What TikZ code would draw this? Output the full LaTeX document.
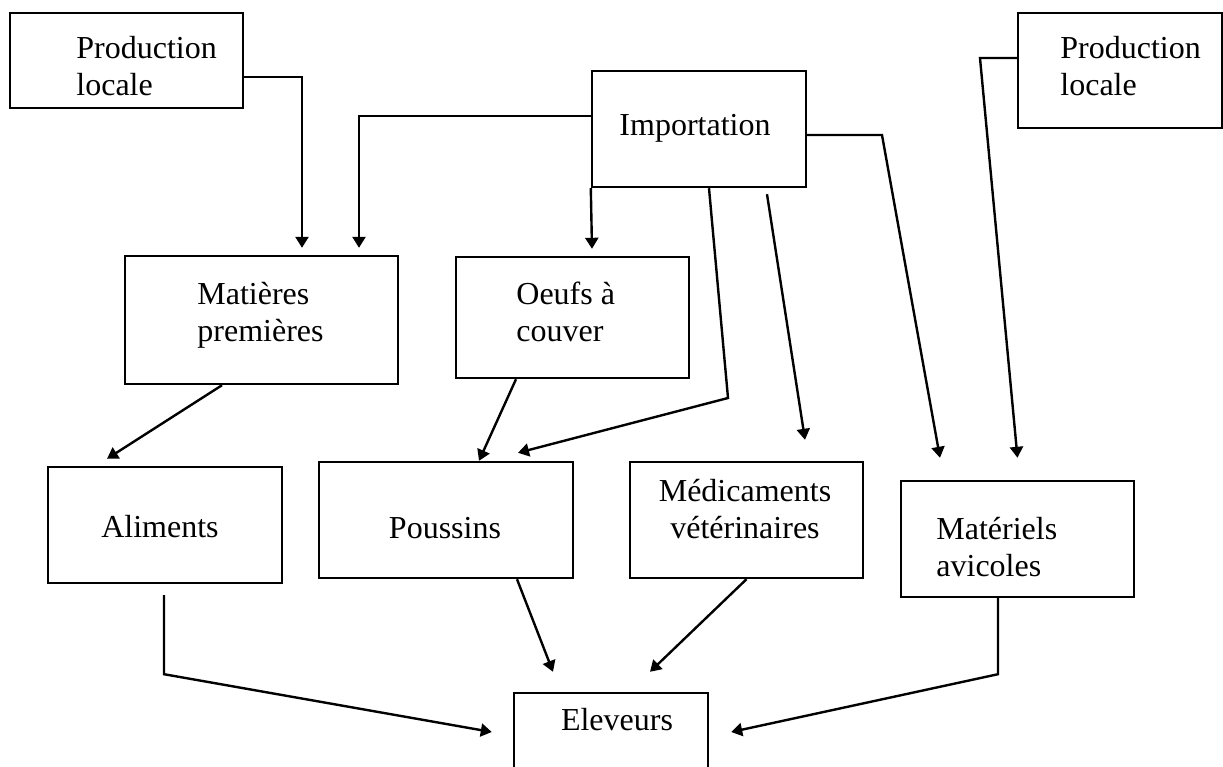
\documentclass[tikz,border=0pt]{standalone}
\usepackage{fontspec}
\setmainfont{Liberation Serif}
\usetikzlibrary{arrows.meta}
\tikzset{
  box/.style={draw, line width=1.2pt, rectangle, inner sep=0pt},
  arr/.style={line width=1.2pt, -{Triangle[length=5.5pt,width=6.5pt]}},
  lbl/.style={font=\fontsize{16}{18.5}\selectfont, inner sep=0pt},
}
\begin{document}
\begin{tikzpicture}[x=0.5pt, y=-0.5pt]
\clip (0,0) rectangle (1223,767);
\fill[white] (0,0) rectangle (1223,767);
% boxes
\node[box, minimum width=116.5pt, minimum height=47.5pt] (pl1) at (126.5,60.5) {};
\node[box, minimum width=102pt, minimum height=57.5pt] (pl2) at (1120,70.5) {};
\node[box, minimum width=107pt, minimum height=58pt] (imp) at (699,129) {};
\node[box, minimum width=136.5pt, minimum height=64pt] (mat) at (261.5,320) {};
\node[box, minimum width=116.5pt, minimum height=60.5pt] (oeufs) at (572.5,317.5) {};
\node[box, minimum width=117pt, minimum height=58pt] (alim) at (165,525) {};
\node[box, minimum width=127pt, minimum height=58pt] (pous) at (446,520) {};
\node[box, minimum width=116.5pt, minimum height=58pt] (med) at (746.5,520) {};
\node[box, minimum width=116.5pt, minimum height=58pt] (matl) at (1017.5,539) {};
\node[box, minimum width=97pt, minimum height=43.5pt] (elev) at (611,736.5) {};
% texts (base anchor = baseline of last line)
\node[lbl, align=left, anchor=base west] (t1) at (76,95) {Production\\locale};
\node[lbl, align=left, anchor=base west] (t2) at (1060,95) {Production\\locale};
\node[lbl, anchor=base] (t3) at (695,135) {Importation};
\node[lbl, align=left, anchor=base west] (t4) at (197,341) {Matières\\premières};
\node[lbl, align=left, anchor=base west] (t5) at (516,341) {Oeufs à\\couver};
\node[lbl, anchor=base] (t6) at (160,537) {Aliments};
\node[lbl, anchor=base] (t7) at (445,538) {Poussins};
\node[lbl, align=center, anchor=base] (t8) at (745,538) {Médicaments\\vétérinaires};
\node[lbl, align=left, anchor=base west] (t9) at (936,576) {Matériels\\avicoles};
\node[lbl, anchor=base] (t10) at (617,730) {Eleveurs};
% bend points
\coordinate (bp) at (728,398);
\coordinate (bm) at (882,135);
\coordinate (bq) at (980,58);
% connectors
\draw[arr] ([yshift=-8.25pt]pl1.east) -| ([xshift=20.25pt,yshift=3.5pt]mat.north);
\draw[arr] ([yshift=6.5pt]imp.west) -| ([xshift=48.75pt,yshift=3.5pt]mat.north);
\draw[arr] (imp.south west) -- ([xshift=9.75pt,yshift=3.5pt]oeufs.north);
\draw[arr] ([xshift=5pt]imp.south) -- (bp) -- ([xshift=36pt,yshift=4pt]pous.north);
\draw[arr] ([xshift=34pt,yshift=-3pt]imp.south) -- ([xshift=29.25pt,yshift=10.5pt]med.north);
\draw[arr] ([yshift=-3pt]imp.east) -- (bm) -- ([xshift=-38.75pt,yshift=11pt]matl.north);
\draw[arr] ([yshift=6.25pt]pl2.west) -- (bq) -- ([yshift=11pt]matl.north);
\draw[arr] ([xshift=-19.75pt]mat.south) -- ([xshift=-29pt,yshift=3.5pt]alim.north);
\draw[arr] ([xshift=-28.25pt]oeufs.south) -- ([xshift=16.5pt]pous.north);
\draw[arr] ([xshift=-0.5pt,yshift=-5.5pt]alim.south) -- ++(0,79) -- ([xshift=-10.5pt,yshift=2.25pt]elev.west);
\draw[arr] ([xshift=35.5pt]pous.south) -- ([xshift=-29pt,yshift=10pt]elev.north);
\draw[arr] (med.south) -- ([xshift=19.5pt,yshift=10pt]elev.north);
\draw[arr] ([xshift=-9.75pt]matl.south) -- ++(0,76) -- ([xshift=11pt,yshift=2.25pt]elev.east);
\end{tikzpicture}
\end{document}
